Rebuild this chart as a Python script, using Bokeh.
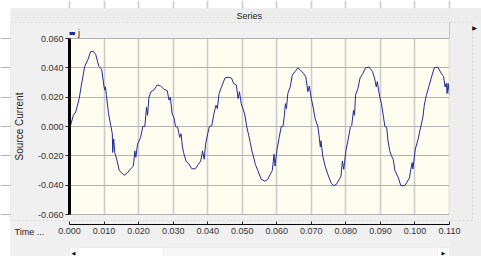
from bokeh.plotting import figure
from bokeh.models import (Range1d, FixedTicker, PrintfTickFormatter, BoxAnnotation,
                          Label, Legend, LegendItem)
from bokeh.embed import file_html
from bokeh.resources import INLINE

# ---------------- data ----------------
title_text = "Series"
series_name = "j"
x_label = "Time ..."
y_label = "Source Current"

x_ticks = [0.000, 0.010, 0.020, 0.030, 0.040, 0.050, 0.060, 0.070, 0.080, 0.090, 0.100, 0.110]
y_ticks = [-0.060, -0.040, -0.020, 0.000, 0.020, 0.040, 0.060]

time_s = [
    0.0000, 0.0003, 0.0011, 0.0018, 0.0028, 0.0035, 0.0044, 0.0054, 0.0061, 0.0069,
    0.0076, 0.0085, 0.0093, 0.0100, 0.0102, 0.0104, 0.0107, 0.0113, 0.0120, 0.0124,
    0.0125, 0.0128, 0.0131, 0.0138, 0.0144, 0.0151, 0.0158, 0.0168, 0.0180, 0.0185,
    0.0189, 0.0192, 0.0197, 0.0206, 0.0212, 0.0218, 0.0223, 0.0226, 0.0230, 0.0236,
    0.0244, 0.0254, 0.0264, 0.0273, 0.0283, 0.0288, 0.0292, 0.0297, 0.0302, 0.0307,
    0.0313, 0.0319, 0.0323, 0.0327, 0.0330, 0.0338, 0.0345, 0.0354, 0.0364, 0.0373,
    0.0380, 0.0385, 0.0390, 0.0394, 0.0400, 0.0405, 0.0412, 0.0418, 0.0424, 0.0428,
    0.0433, 0.0440, 0.0450, 0.0459, 0.0469, 0.0475, 0.0483, 0.0488, 0.0492, 0.0497,
    0.0507, 0.0513, 0.0519, 0.0523, 0.0528, 0.0532, 0.0538, 0.0545, 0.0555, 0.0566,
    0.0574, 0.0581, 0.0587, 0.0592, 0.0595, 0.0600, 0.0607, 0.0613, 0.0618, 0.0622,
    0.0625, 0.0628, 0.0632, 0.0639, 0.0645, 0.0653, 0.0661, 0.0668, 0.0677, 0.0684,
    0.0690, 0.0694, 0.0700, 0.0706, 0.0711, 0.0719, 0.0723, 0.0726, 0.0728, 0.0733,
    0.0740, 0.0748, 0.0757, 0.0764, 0.0772, 0.0781, 0.0786, 0.0790, 0.0794, 0.0800,
    0.0806, 0.0813, 0.0817, 0.0822, 0.0825, 0.0828, 0.0835, 0.0841, 0.0849, 0.0857,
    0.0867, 0.0877, 0.0883, 0.0888, 0.0891, 0.0898, 0.0903, 0.0913, 0.0918, 0.0922,
    0.0927, 0.0932, 0.0937, 0.0942, 0.0952, 0.0959, 0.0971, 0.0984, 0.0988, 0.0992,
    0.0994, 0.1001, 0.1008, 0.1017, 0.1023, 0.1027, 0.1033, 0.1040, 0.1047, 0.1056,
    0.1066, 0.1076, 0.1083, 0.1087, 0.1091, 0.1093, 0.1096, 0.1100,
]
current_a = [
    0.0000, 0.0007, 0.0076, 0.0099, 0.0190, 0.0290, 0.0410, 0.0460, 0.0510, 0.0513,
    0.0490, 0.0410, 0.0390, 0.0270, 0.0248, 0.0271, 0.0210, 0.0087, 0.0000, -0.0050,
    -0.0177, -0.0085, -0.0177, -0.0235, -0.0300, -0.0315, -0.0333, -0.0315, -0.0280, -0.0270,
    -0.0166, -0.0210, -0.0120, -0.0074, 0.0000, 0.0000, 0.0133, 0.0076, 0.0200, 0.0237,
    0.0248, 0.0283, 0.0276, 0.0255, 0.0244, 0.0180, 0.0200, 0.0087, 0.0064, 0.0000,
    -0.0005, -0.0074, -0.0050, -0.0140, -0.0177, -0.0240, -0.0253, -0.0288, -0.0288, -0.0258,
    -0.0235, -0.0166, -0.0223, -0.0120, -0.0050, 0.0000, 0.0007, 0.0087, 0.0145, 0.0122,
    0.0225, 0.0270, 0.0330, 0.0336, 0.0330, 0.0294, 0.0283, 0.0190, 0.0237, 0.0156,
    0.0087, 0.0000, -0.0062, -0.0108, -0.0166, -0.0200, -0.0258, -0.0300, -0.0360, -0.0373,
    -0.0360, -0.0327, -0.0300, -0.0189, -0.0270, -0.0166, -0.0074, 0.0000, 0.0000, 0.0076,
    0.0156, 0.0122, 0.0225, 0.0270, 0.0350, 0.0375, 0.0400, 0.0386, 0.0363, 0.0340,
    0.0237, 0.0276, 0.0190, 0.0122, 0.0053, 0.0000, -0.0074, -0.0140, -0.0097, -0.0200,
    -0.0270, -0.0327, -0.0384, -0.0403, -0.0396, -0.0360, -0.0338, -0.0235, -0.0292, -0.0166,
    -0.0097, -0.0005, 0.0007, 0.0110, 0.0076, 0.0214, 0.0260, 0.0330, 0.0360, 0.0400,
    0.0405, 0.0375, 0.0330, 0.0270, 0.0306, 0.0202, 0.0156, 0.0000, -0.0005, -0.0097,
    -0.0166, -0.0200, -0.0223, -0.0300, -0.0350, -0.0403, -0.0403, -0.0350, -0.0292, -0.0246,
    -0.0290, -0.0154, -0.0097, 0.0000, 0.0064, 0.0145, 0.0214, 0.0270, 0.0330, 0.0400,
    0.0405, 0.0363, 0.0340, 0.0270, 0.0294, 0.0225, 0.0294, 0.0214,
]

# ---------------- layout (pixel positions of the window chrome) ----------------
FONT = "Liberation Sans"
W, H = 481, 256
X0_PX, X1_PX = 69, 449      # pixel columns of x_ticks[0] / x_ticks[-1]
Y0_PX, Y1_PX = 214, 38      # pixel rows of y_ticks[0] / y_ticks[-1]
XPP = (x_ticks[-1] - x_ticks[0]) / (X1_PX - X0_PX)
YPP = (y_ticks[-1] - y_ticks[0]) / (Y0_PX - Y1_PX)


def px2x(px):
    return x_ticks[0] + (px - X0_PX) * XPP


def py2y(py):
    return y_ticks[0] + (Y0_PX - py) * YPP


GRAY = "#f0f0f0"
BAR = "#ececec"

p = figure(width=W, height=H, output_backend="svg", toolbar_location=None,
           x_range=Range1d(px2x(0), px2x(W)), y_range=Range1d(py2y(H), py2y(0)),
           min_border_left=0, min_border_right=0, min_border_top=0, min_border_bottom=0)
p.background_fill_color = "#ffffff"
p.border_fill_color = "#ffffff"
p.outline_line_color = None


def box(l, r, t, b, **kw):
    opts = dict(fill_color=GRAY, fill_alpha=1, line_color=None)
    opts.update(kw)
    bx = BoxAnnotation(left=px2x(l), right=px2x(r), top=py2y(t), bottom=py2y(b), **opts)
    p.add_layout(bx)
    return bx


def glyph_text(px, py, txt, size="5px"):
    p.add_layout(Label(x=px2x(px), y=py2y(py), text=txt, level="overlay",
                       text_font="DejaVu Sans", text_font_size=size, text_color="#000000",
                       text_align="center", text_baseline="middle"))


# cream data area (below the grid)
p.add_layout(BoxAnnotation(left=x_ticks[0], right=x_ticks[-1], bottom=y_ticks[0], top=y_ticks[-1],
                           fill_color="#fffcf0", fill_alpha=1, line_color=None, level="image"))

# grid
p.xgrid.ticker = FixedTicker(ticks=x_ticks)
p.ygrid.ticker = FixedTicker(ticks=y_ticks)
p.xgrid.grid_line_color = "#cbcbcb"
p.xgrid.grid_line_width = 1.6
p.ygrid.grid_line_color = "#b2b2b2"
p.ygrid.grid_line_width = 1

# data line
r = p.line(time_s, current_a, line_color="#1f2d96", line_width=1)
proxy = p.line(time_s, current_a, line_color="#1f2d96", line_width=3, visible=False)

# window chrome around the data area (also hides grid lines outside it)
box(10, W, 8, 37.5)                 # legend strip
box(10, X0_PX, 37.5, H)             # left of data area
box(X1_PX, W, 8, H)                 # right of data area
box(10, W, Y0_PX + 0.5, H)          # below data area
box(10, W, 8, 21, fill_color=BAR)   # "Series" header bar
box(X1_PX, W, 22, H, fill_color="#eeeeee")  # right side panel
box(X1_PX, X1_PX, 22, 37.5, fill_alpha=0, line_color="#a0a0a0", line_width=1)
# dashed border of the chart box
box(10, 472, 22, 220, fill_alpha=0, line_color="#a0a0a0", line_dash="2 2", line_width=1)
# scroll bar
box(X0_PX, X1_PX, 247, H, fill_color="#f7f7f7", line_color="#e2e2e2", line_width=1)
box(X0_PX + 8, 163, 247, H, fill_color="#ffffff", line_color="#d4d4d4", line_width=1)
box(X1_PX - 12, X1_PX, 247, H, fill_color="#ffffff", line_color="#d4d4d4", line_width=1)
glyph_text(73, 252, "\u25c0")
glyph_text(443, 252, "\u25b6")
glyph_text(474, 27, "\u25b6", size="6px")

# axes (placed at fixed locations so that they take no panel space)
p.xaxis.fixed_location = py2y(224)
p.yaxis.fixed_location = x_ticks[0]
p.xaxis.ticker = FixedTicker(ticks=x_ticks)
p.yaxis.ticker = FixedTicker(ticks=y_ticks)
p.xaxis.formatter = PrintfTickFormatter(format="%.3f")
p.yaxis.formatter = PrintfTickFormatter(format="%.3f")
for ax in (p.xaxis[0], p.yaxis[0]):
    ax.level = "overlay"
    ax.major_label_text_font = FONT
    ax.major_label_text_font_size = "9px"
    ax.major_label_text_color = "#333333"
    ax.minor_tick_line_color = None
    ax.major_tick_line_color = "#222222"

p.xaxis.bounds = (x_ticks[0], x_ticks[-1])
p.xaxis.axis_line_color = "#000000"
p.xaxis.major_tick_in = 3
p.xaxis.major_tick_out = 0
p.xaxis.major_label_standoff = 3

p.yaxis.bounds = (y_ticks[0], y_ticks[-1])
p.yaxis.axis_line_color = "#000000"
p.yaxis.axis_line_width = 3
p.yaxis.major_tick_in = 0
p.yaxis.major_tick_out = 4
p.yaxis.major_label_standoff = 2
p.yaxis.axis_label = y_label
p.yaxis.axis_label_text_font = FONT
p.yaxis.axis_label_text_font_size = "10px"
p.yaxis.axis_label_text_font_style = "normal"
p.yaxis.axis_label_text_color = "#222222"
p.yaxis.axis_label_standoff = 10

legend = Legend(items=[LegendItem(label=series_name, renderers=[proxy])],
                location=(X0_PX, H - 38), level="overlay",
                glyph_width=6, glyph_height=10, label_height=10, label_standoff=3,
                label_text_font=FONT, label_text_font_size="9px", label_text_color="#222222",
                padding=3, margin=0, spacing=0, background_fill_alpha=0, border_line_color=None)
p.add_layout(legend)

p.add_layout(Label(x=px2x(236), y=py2y(15), text=title_text, level="overlay",
                   text_font=FONT, text_font_size="9px", text_color="#222222",
                   text_baseline="middle"))
p.add_layout(Label(x=px2x(14), y=py2y(231), text=x_label, level="overlay",
                   text_font=FONT, text_font_size="9px", text_color="#222222",
                   text_baseline="middle"))

open("out.html", "w").write(file_html(p, INLINE))
